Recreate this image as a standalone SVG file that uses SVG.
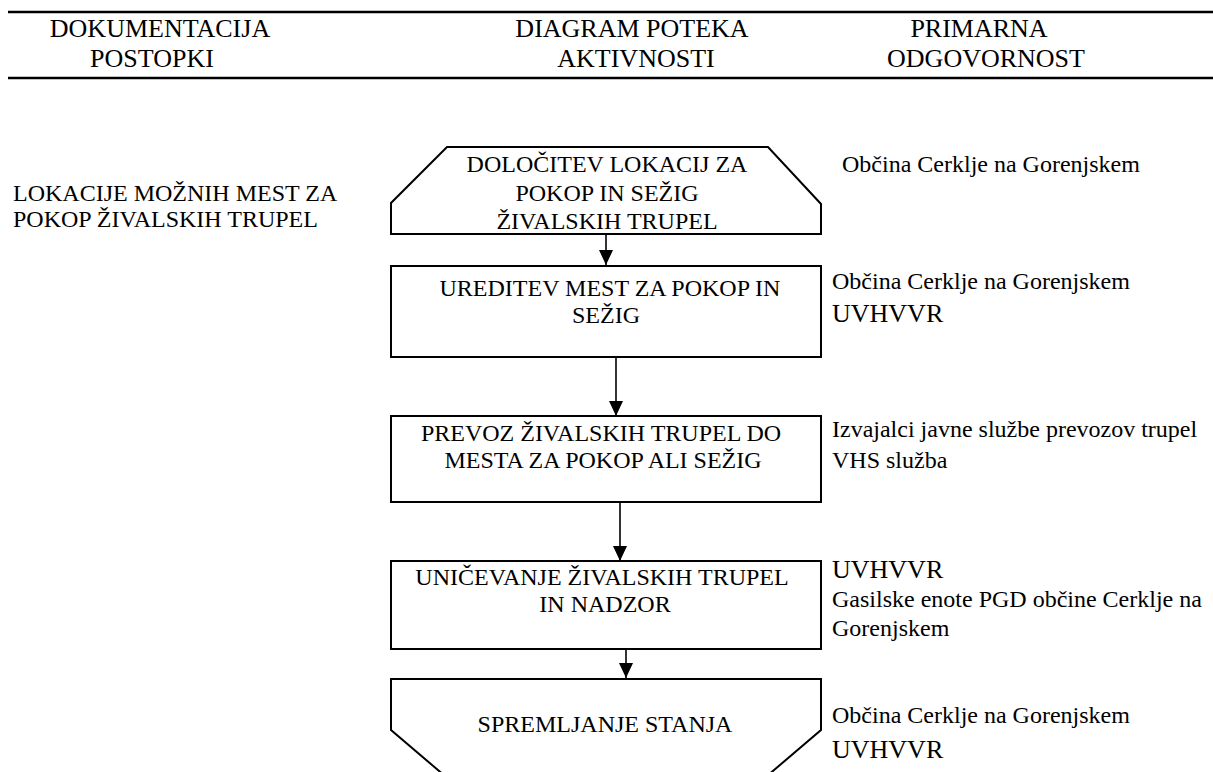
<svg xmlns="http://www.w3.org/2000/svg" width="1213" height="772" viewBox="0 0 1213 772" font-family="'Liberation Serif', 'Times New Roman', 'DejaVu Serif', serif">
<style>
text{font-family:"Liberation Serif","Times New Roman","DejaVu Serif",serif;fill:#000}
.h{font-size:26px}
.b{font-size:24px}
.bc{font-size:24px;text-anchor:middle}
.big{font-size:26px}
.shape{fill:#fff;stroke:#000;stroke-width:2}
.rule{stroke:#000;stroke-width:2.5}
.conn{stroke:#000;stroke-width:1.6;fill:none;marker-end:url(#ah)}
</style>
<defs>
<marker id="ah" markerUnits="userSpaceOnUse" markerWidth="15" markerHeight="14" refX="15" refY="7" orient="auto">
<path d="M0,0 L15,7 L0,14 Z" fill="#000"/>
</marker>
</defs>
<rect width="1213" height="772" fill="#fff"/>
<g id="header">
<line class="rule" x1="8" y1="12" x2="1213" y2="12"/>
<line class="rule" x1="8" y1="78" x2="1213" y2="78"/>
<text class="h" x="160" y="37" text-anchor="middle">DOKUMENTACIJA</text>
<text class="h" x="152" y="67" text-anchor="middle">POSTOPKI</text>
<text class="h" x="632" y="37" text-anchor="middle">DIAGRAM POTEKA</text>
<text class="h" x="636" y="67" text-anchor="middle">AKTIVNOSTI</text>
<text class="h" x="979" y="37" text-anchor="middle">PRIMARNA</text>
<text class="h" x="986" y="67" text-anchor="middle">ODGOVORNOST</text>
</g>
<g id="doc">
<text class="b" x="13" y="201">LOKACIJE MOŽNIH MEST ZA</text>
<text class="b" x="13" y="227">POKOP ŽIVALSKIH TRUPEL</text>
</g>
<g id="n1">
<path class="shape" d="M447,147 H768 L821,204 V234 H391 V203 Z"/>
<text class="bc" x="607" y="172">DOLOČITEV LOKACIJ ZA</text>
<text class="bc" x="607" y="201">POKOP IN SEŽIG</text>
<text class="bc" x="607" y="229">ŽIVALSKIH TRUPEL</text>
</g>
<g id="n2">
<rect class="shape" x="391" y="266" width="430" height="91"/>
<text class="bc" x="610" y="296">UREDITEV MEST ZA POKOP IN</text>
<text class="bc" x="606" y="323">SEŽIG</text>
</g>
<g id="n3">
<rect class="shape" x="391" y="416" width="430" height="86"/>
<text class="bc" x="601" y="441">PREVOZ ŽIVALSKIH TRUPEL DO</text>
<text class="bc" x="603" y="468">MESTA ZA POKOP ALI SEŽIG</text>
</g>
<g id="n4">
<rect class="shape" x="391" y="561" width="430" height="88"/>
<text class="bc" x="602" y="585">UNIČEVANJE ŽIVALSKIH TRUPEL</text>
<text class="bc" x="605" y="612">IN NADZOR</text>
</g>
<g id="n5">
<path class="shape" d="M391,730 V679 H821 V730 L760,782 H452 Z"/>
<text class="bc" x="605" y="732">SPREMLJANJE STANJA</text>
</g>
<g id="resp">
<text class="b" x="842" y="172">Občina Cerklje na Gorenjskem</text>
<text class="b" x="832" y="289">Občina Cerklje na Gorenjskem</text>
<text class="big" x="832" y="322">UVHVVR</text>
<text class="b" x="832" y="437">Izvajalci javne službe prevozov trupel</text>
<text class="b" x="832" y="468">VHS služba</text>
<text class="big" x="832" y="578">UVHVVR</text>
<text class="b" x="832" y="607">Gasilske enote PGD občine Cerklje na</text>
<text class="b" x="832" y="636">Gorenjskem</text>
<text class="b" x="832" y="723">Občina Cerklje na Gorenjskem</text>
<text class="big" x="832" y="758">UVHVVR</text>
</g>
<g id="connectors">
<line class="conn" x1="606" y1="235" x2="606" y2="265"/>
<line class="conn" x1="616" y1="358" x2="616" y2="416"/>
<line class="conn" x1="620" y1="503" x2="620" y2="561"/>
<line class="conn" x1="626" y1="650" x2="626" y2="678"/>
</g>
</svg>
